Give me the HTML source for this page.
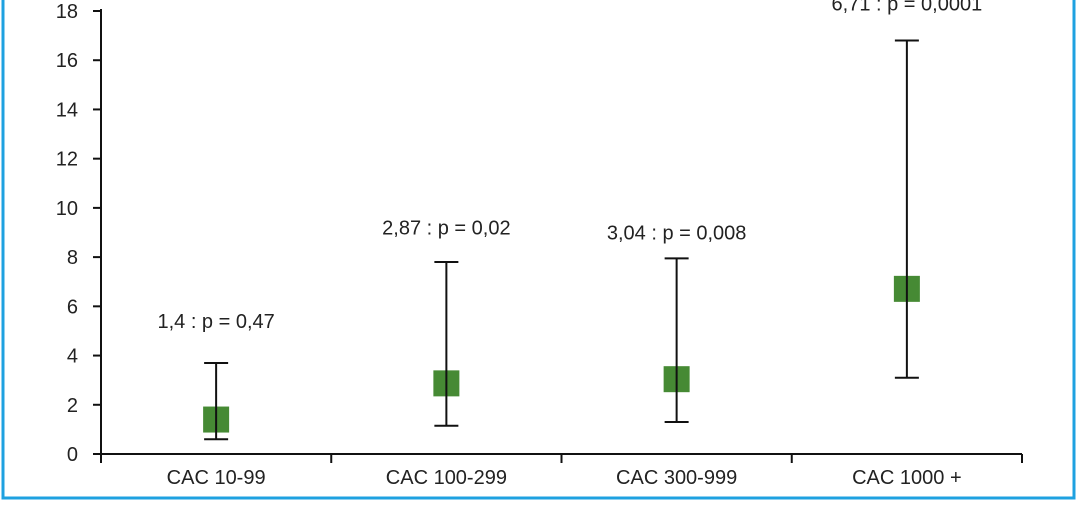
<!DOCTYPE html>
<html><head><meta charset="utf-8"><style>
html,body{margin:0;padding:0;background:#fff;}
svg text{font-family:"Liberation Sans",sans-serif;fill:#222;}
</style></head><body>
<svg width="1078" height="516" viewBox="0 0 1078 516">
<rect x="3" y="-10" width="1071" height="508" fill="none" stroke="#1ea1e0" stroke-width="3"/>
<g id="plot"></g>
</svg>
<script>
const categories=["CAC 10-99","CAC 100-299","CAC 300-999","CAC 1000 +"];
const estimates=[1.4,2.87,3.04,6.71];
const lowerCI=[0.6,1.15,1.3,3.1];
const upperCI=[3.7,7.8,7.95,16.8];
const annotations=["1,4 : p = 0,47","2,87 : p = 0,02","3,04 : p = 0,008","6,71 : p = 0,0001"];
const annotationY=[5.4,9.2,9.0,18.3];
const yTicks=[0,2,4,6,8,10,12,14,16,18];

const NS="http://www.w3.org/2000/svg";
const g=document.getElementById('plot');
const x0=101,x1=1022,y0=454,yTop=11,yMax=18;
const yS=v=>y0-(v/yMax)*(y0-yTop);
const bw=(x1-x0)/categories.length;
const xC=i=>x0+bw*(i+0.5);
function mk(t,a){const e=document.createElementNS(NS,t);for(const k in a)e.setAttribute(k,a[k]);g.appendChild(e);return e;}
let e;
e=mk('line',{x1:x0,y1:y0,x2:x1,y2:y0,stroke:'#111','stroke-width':2});


e=mk('line',{x1:x0,y1:yTop-2,x2:x0,y2:y0+8,stroke:'#111','stroke-width':2});


yTicks.forEach(v=>{
 const y=yS(v);
 e=mk('line',{x1:x0-8,y1:y,x2:x0,y2:y,stroke:'#111','stroke-width':2});
 
 
 e=mk('text',{x:78,y:y+7,'text-anchor':'end','font-size':20});
 e.textContent=v;
 
 
});
for(let i=0;i<=categories.length;i++){
 const x=x0+bw*i;
 e=mk('line',{x1:x,y1:y0,x2:x,y2:y0+9,stroke:'#111','stroke-width':2});
 
 
}
categories.forEach((c,i)=>{
 const x=xC(i);
 e=mk('text',{x:x,y:484,'text-anchor':'middle','font-size':20});
 e.textContent=c;
 
 
 e=mk('rect',{x:x-13,y:yS(estimates[i])-13,width:26,height:26,fill:'#468a34'});
 
 
 e=mk('line',{x1:x,y1:yS(lowerCI[i]),x2:x,y2:yS(upperCI[i]),stroke:'#111','stroke-width':2});
 
 
 e=mk('line',{x1:x-12,y1:yS(upperCI[i]),x2:x+12,y2:yS(upperCI[i]),stroke:'#111','stroke-width':2});
 
 
 e=mk('line',{x1:x-12,y1:yS(lowerCI[i]),x2:x+12,y2:yS(lowerCI[i]),stroke:'#111','stroke-width':2});
 
 
 e=mk('text',{x:x,y:yS(annotationY[i])+7,'text-anchor':'middle','font-size':20});
 e.textContent=annotations[i];
 
 
});
</script>
</body></html>
